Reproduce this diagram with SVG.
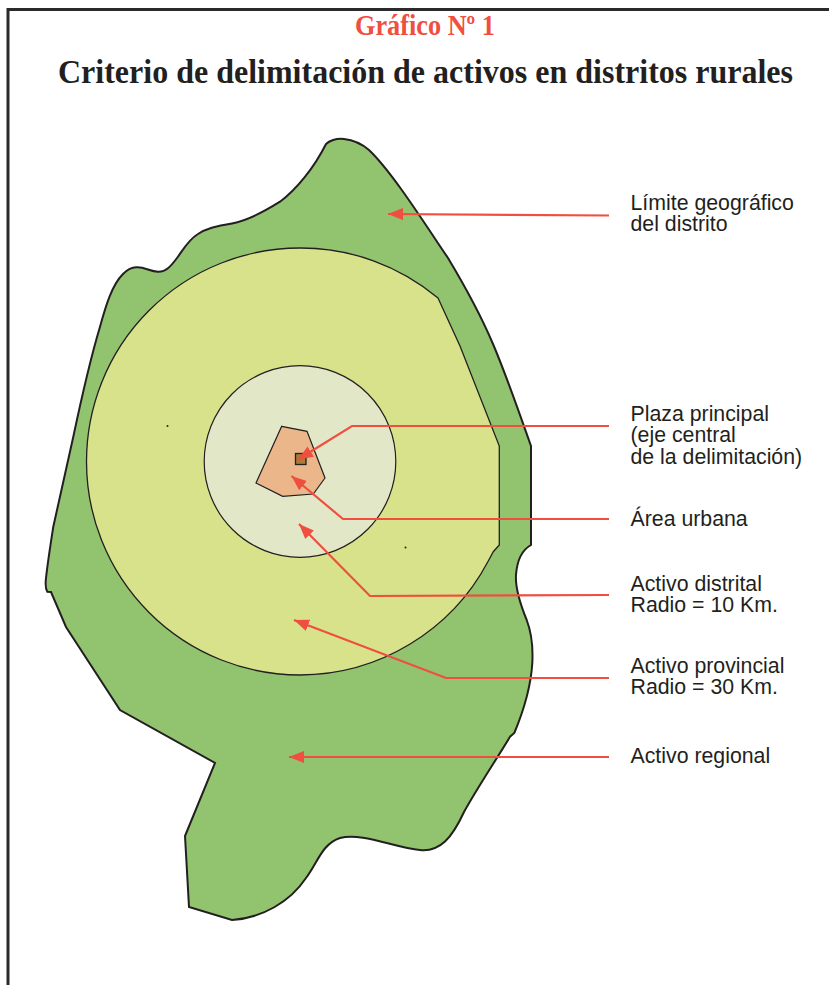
<svg xmlns="http://www.w3.org/2000/svg" width="829" height="985" viewBox="0 0 829 985">
<defs>
<marker id="ah" markerUnits="userSpaceOnUse" markerWidth="16" markerHeight="13" refX="15" refY="6" orient="auto"><path d="M15 6L0 0L0 12Z" fill="#f04e3e"/></marker>
</defs>
<style>
.lbl{font-family:"Liberation Sans",Arial,sans-serif;font-size:21.3px;fill:#231f20}
.ttl{font-family:"Liberation Serif","Times New Roman",serif;font-weight:bold}
.arr{fill:none;stroke:#f04e3e;stroke-width:2.2}
</style>
<rect width="829" height="985" fill="#fff"/>
<path id="frame" d="M8 985V9.500H829" fill="none" stroke="#2b2a2b" stroke-width="3"/>
<g id="titles">
<text class="ttl" x="355" y="34.500" font-size="28.500" textLength="140" lengthAdjust="spacingAndGlyphs" fill="#f04e3e">Gráfico Nº 1</text>
<text class="ttl" x="58" y="83" font-size="33.500" textLength="735" lengthAdjust="spacingAndGlyphs" fill="#231f20">Criterio de delimitación de activos en distritos rurales</text>
</g>
<g id="activo-regional"><path d="M326 144C329 141 336 138 344 139C353 140 362 144 369 150C392 172 423 221 448 258C466 288 482 318 493 344C507 377 520 415 531 446V545C522 550 517 561 516 575C515 590 521 606 526.700 620C532 634 533 650 532.300 663C531 685 526 705 514.300 733L510 736.700C496 760 476 790 464 812C452 838 440 852 420 850C395 848 362 832 340 838C322 844 318 862 306 878C290 902 262 918 232 920L189 907L185 836L215 763L120 710L66 627L51 592L47.300 591.700C45 588 45.300 584 46 578C48 560 52 535 53.300 526.700L73.300 436.700C80 405 90 360 100 326.700C106 305 112 285 123 274C128 269 133 267 137 267.300C145 267 150 271.500 158 271.700C166 272 171 266 177 258C183 250 188 240 198 234C208 227 220 226 232 223.500C245 221 262 213 280 201.700C296 190 314 168 326 144Z" fill="#92c36f" stroke="#231f20" stroke-width="2"/></g>
<g id="activo-provincial"><path d="M438 298L460 346L499.300 446V545L493.300 551.700L488 561.500A213.500 213.500 0 0 1 300 675A213.500 213.500 0 0 1 86.500 461.500A213.500 213.500 0 0 1 300 248A213.500 213.500 0 0 1 438 298Z" fill="#d7e28b" stroke="#231f20" stroke-width="1.300"/></g>
<g id="activo-distrital"><circle cx="300" cy="461.500" r="95.800" fill="#e2e7c8" stroke="#231f20" stroke-width="1.200"/></g>
<g id="area-urbana"><path d="M281.700 426.300L307 431.300L325 478L313.300 494L282.700 496.300L256 483Z" fill="#ebb68a" stroke="#231f20" stroke-width="1.200"/></g>
<g id="plaza-principal"><rect x="295.500" y="453.500" width="10.500" height="11" fill="#a67c36" stroke="#231f20" stroke-width="1.300"/></g>
<g id="puntos"><circle cx="167.500" cy="426" r="1" fill="#231f20"/><circle cx="405.500" cy="547.500" r="1" fill="#231f20"/></g>
<g id="connectors">
<path class="arr" marker-end="url(#ah)" d="M609 215.500L388 214"/>
<path class="arr" marker-end="url(#ah)" d="M609 426H352L298 459.500"/>
<path class="arr" marker-end="url(#ah)" d="M609 519H343L291.500 476"/>
<path class="arr" marker-end="url(#ah)" d="M609 595L370 596L299 524"/>
<path class="arr" marker-end="url(#ah)" d="M609 678H446L294 620"/>
<path class="arr" marker-end="url(#ah)" d="M609 757H289"/>
</g>
<g id="lbl-limite"><text class="lbl" x="630.500" y="209.500">Límite geográfico</text><text class="lbl" x="630.500" y="231">del distrito</text></g>
<g id="lbl-plaza"><text class="lbl" x="630.500" y="420.500">Plaza principal</text><text class="lbl" x="630.500" y="442">(eje central</text><text class="lbl" x="630.500" y="463.500">de la delimitación)</text></g>
<g id="lbl-urbana"><text class="lbl" x="630.500" y="525.500">Área urbana</text></g>
<g id="lbl-distrital"><text class="lbl" x="630.500" y="591">Activo distrital</text><text class="lbl" x="630.500" y="612">Radio = 10 Km.</text></g>
<g id="lbl-provincial"><text class="lbl" x="630.500" y="673">Activo provincial</text><text class="lbl" x="630.500" y="693.500">Radio = 30 Km.</text></g>
<g id="lbl-regional"><text class="lbl" x="630.500" y="762.500">Activo regional</text></g>
</svg>
